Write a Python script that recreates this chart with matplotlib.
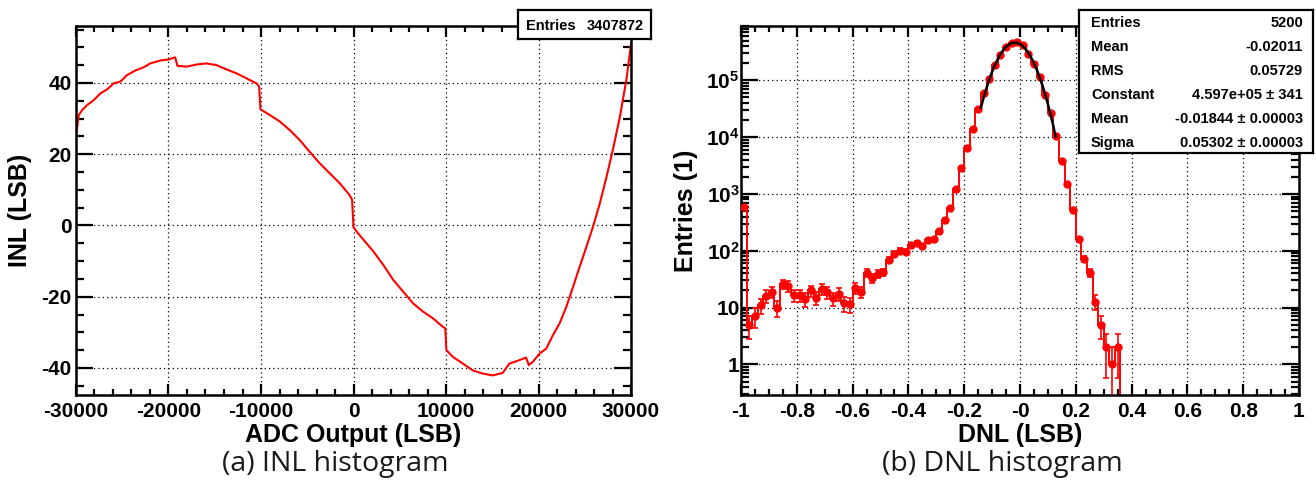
#!/usr/bin/env python3
"""INL and DNL histograms of the ADC linearity scan, ROOT-like styling."""

import numpy as np
import matplotlib

matplotlib.use("Agg")
import matplotlib.pyplot as plt
from matplotlib.ticker import FixedLocator, FuncFormatter, LogLocator, MultipleLocator, NullFormatter

# INL curve: ADC output code vs. integral nonlinearity
inl_code = [
    -30000, -29700, -29330, -28800, -28080, -27360, -26640, -25920, -25200, -24490,
    -23590, -22690, -21970, -20900, -20000, -19280, -19030, -18030, -16950, -15870,
    -14800, -13720, -12640, -11560, -10490, -10200, -10060, -9050, -7970, -6900,
    -5820, -4740, -3670, -2590, -1510, -440, -150, 0, 460, 1075,
    2150, 3225, 4300, 5375, 6450, 7530, 8600, 9680, 9930, 10035,
    10750, 11830, 12900, 13980, 15050, 16130, 16850, 17940, 18660, 18950,
    19380, 20110, 20830, 21560, 22280, 23000, 23730, 24450, 25180, 25900,
    26620, 27350, 28070, 28800, 29520, 30000,
]
inl_lsb = [
    25.0, 31.0, 32.4, 33.8, 35.2, 37.1, 38.2, 39.9, 40.4, 42.2,
    43.5, 44.4, 45.5, 46.3, 46.6, 47.2, 44.8, 44.6, 45.2, 45.5,
    45.0, 43.8, 42.7, 41.3, 39.9, 39.0, 32.6, 31.0, 29.2, 26.8,
    24.0, 20.7, 17.5, 14.7, 11.9, 8.6, 7.2, -0.5, -2.1, -4.0,
    -7.3, -11.1, -15.3, -18.6, -21.9, -24.2, -26.1, -28.5, -28.9, -35.0,
    -36.9, -38.8, -40.7, -41.6, -42.1, -41.4, -38.8, -37.8, -37.1, -39.2,
    -38.3, -36.0, -34.6, -30.8, -27.5, -22.9, -17.3, -11.6, -6.0, -0.3,
    6.1, 13.6, 21.6, 30.5, 41.2, 51.0,
]
inl_entries = "3407872"

# DNL histogram: 100 bins over [-1, 1]
dnl_range = (-1.0, 1.0)
dnl_nbins = 100
dnl_counts = [
    600, 5.0, 7.0, 11, 16, 19, 10, 26, 24, 16.5,
    16.5, 14, 20, 15, 21, 18.5, 14.5, 17.5, 12, 11.5,
    22, 19, 41, 33, 39, 42, 70, 88, 100, 97,
    127, 138, 121, 152, 158, 219, 351, 575, 1220, 2900,
    6450, 13700, 31000, 60000, 107000, 184000, 276000, 385000, 455000, 465000,
    412000, 295000, 196000, 114000, 54500, 26000, 10600, 3800, 1510, 520,
    162, 71, 41, 12.8, 5, 2, 1, 2, 0, 0,
    0, 0, 0, 0, 0, 0, 0, 0, 0, 0,
    0, 0, 0, 0, 0, 0, 0, 0, 0, 0,
    0, 0, 0, 0, 0, 0, 0, 0, 0, 0,
]

# gaussian fit to the DNL peak
fit_const = 4.597e5
fit_mean = -0.01844
fit_sigma = 0.05302
fit_range = (-0.14, 0.128)

dnl_stats = [
    ("Entries", "5200"),
    ("Mean", "-0.02011"),
    ("RMS", "0.05729"),
    ("Constant", "4.597e+05 \u00b1 341"),
    ("Mean", "-0.01844 \u00b1 0.00003"),
    ("Sigma", "0.05302 \u00b1 0.00003"),
]
dnl_xticklabels = ["-1", "-0.8", "-0.6", "-0.4", "-0.2", "-0", "0.2", "0.4", "0.6", "0.8", "1"]
dnl_decades = [0, 1, 2, 3, 4, 5]

W, H = 1316, 482
RED = "#ff0000"

plt.rcParams["font.family"] = ["Liberation Sans", "DejaVu Sans"]
plt.rcParams["font.weight"] = "bold"
plt.rcParams["axes.unicode_minus"] = False
plt.rcParams["mathtext.fontset"] = "custom"
plt.rcParams["mathtext.rm"] = "Liberation Sans:bold"
plt.rcParams["mathtext.bf"] = "Liberation Sans:bold"


def frac(x0, y0, x1, y1):
    """Pixel box (top-left origin) to a figure-fraction rect."""
    return [x0 / W, 1 - y1 / H, (x1 - x0) / W, (y1 - y0) / H]


def root_frame(ax):
    for spine in ax.spines.values():
        spine.set_linewidth(1.8)
    ax.tick_params(which="both", direction="in", top=True, right=True, width=1.6, labelsize=15)
    ax.tick_params(axis="x", which="major", length=8, pad=5)
    ax.tick_params(axis="x", which="minor", length=4)
    ax.tick_params(axis="y", which="major", length=12, pad=3)
    ax.tick_params(axis="y", which="minor", length=6)
    ax.grid(True, which="major", color="black", linestyle=(0, (1, 2.5)), linewidth=0.9)


def stats_box(fig, box_px, rows, label_x, value_x):
    x0, y0, x1, y1 = box_px
    bx = fig.add_axes(frac(x0, y0, x1, y1))
    bx.set_xlim(x0, x1)
    bx.set_ylim(y1, y0)
    bx.set_xticks([])
    bx.set_yticks([])
    for spine in bx.spines.values():
        spine.set_linewidth(1.6)
    step = (y1 - y0) / len(rows)
    for i, (name, value) in enumerate(rows):
        y = y0 + step * (i + 0.5)
        bx.text(label_x, y, name, ha="left", va="center_baseline", fontsize=10.5, fontweight="bold")
        bx.text(value_x, y, value, ha="right", va="center_baseline", fontsize=10.5, fontweight="bold")
    return bx


def draw_inl(ax):
    ax.plot(inl_code, inl_lsb, color=RED, linewidth=1.5)
    ax.set_xlim(-30000, 30000)
    ax.set_ylim(-47.6, 56.0)
    ax.xaxis.set_major_locator(MultipleLocator(10000))
    ax.xaxis.set_minor_locator(MultipleLocator(2000))
    ax.yaxis.set_major_locator(MultipleLocator(20))
    ax.yaxis.set_minor_locator(MultipleLocator(5))
    root_frame(ax)
    ax.set_xlabel("ADC Output (LSB)", fontsize=18, fontweight="bold", va="top")
    ax.xaxis.set_label_coords(0.5, -0.075)
    ax.set_ylabel("INL (LSB)", fontsize=18, fontweight="bold")
    ax.yaxis.set_label_coords(-0.080, 0.5)


def decade_label(v, _pos):
    exp = int(round(np.log10(v)))
    if exp == 0:
        return "1"
    if exp == 1:
        return "10"
    return r"$\mathbf{10^{%d}}$" % exp


def draw_dnl(ax):
    edges = np.linspace(dnl_range[0], dnl_range[1], dnl_nbins + 1)
    centers = 0.5 * (edges[:-1] + edges[1:])
    counts = np.asarray(dnl_counts, dtype=float)

    ax.stairs(counts, edges, baseline=None, color=RED, linewidth=1.4, zorder=2)
    filled = counts > 0
    ax.errorbar(
        centers[filled], counts[filled], yerr=np.sqrt(counts[filled]),
        fmt="o", color=RED, markersize=5, elinewidth=1.2, capsize=2, capthick=1.2, zorder=3,
    )

    xf = np.linspace(fit_range[0], fit_range[1], 300)
    yf = fit_const * np.exp(-0.5 * ((xf - fit_mean) / fit_sigma) ** 2)
    ax.plot(xf, yf, color="black", linewidth=1.8, zorder=4)

    ax.set_yscale("log")
    ax.set_xlim(*dnl_range)
    ax.set_ylim(0.29, 9.0e5)
    ax.xaxis.set_major_locator(FixedLocator(np.linspace(-1, 1, len(dnl_xticklabels))))
    ax.set_xticklabels(dnl_xticklabels)
    ax.xaxis.set_minor_locator(MultipleLocator(0.05))
    ax.yaxis.set_major_locator(FixedLocator([10.0 ** d for d in dnl_decades]))
    ax.yaxis.set_minor_locator(LogLocator(base=10, subs=np.arange(2, 10), numticks=20))
    ax.yaxis.set_minor_formatter(NullFormatter())
    ax.yaxis.set_major_formatter(FuncFormatter(decade_label))
    root_frame(ax)
    ax.tick_params(axis="y", which="major", pad=1)
    ax.set_xlabel("DNL (LSB)", fontsize=18, fontweight="bold", va="top")
    ax.xaxis.set_label_coords(0.5, -0.075)
    ax.set_ylabel("Entries (1)", fontsize=18, fontweight="bold")
    ax.yaxis.set_label_coords(-0.077, 0.5)


def main():
    fig = plt.figure(figsize=(W / 100, H / 100), dpi=100)
    ax_inl = fig.add_axes(frac(76, 26, 631, 395))
    ax_dnl = fig.add_axes(frac(741, 26, 1299, 395))
    draw_inl(ax_inl)
    draw_dnl(ax_dnl)

    stats_box(fig, (518, 10, 651, 39), [("Entries", inl_entries)], 526, 644)
    stats_box(fig, (1079, 10, 1313, 153), dnl_stats, 1091, 1303)

    caption = dict(ha="center", va="baseline", fontsize=20.5, fontweight="normal",
                   family=["Open Sans", "DejaVu Sans"], color="#1a1a1a")
    fig.text(335 / W, 1 - 471 / H, "(a) INL histogram", **caption)
    fig.text(1002 / W, 1 - 471 / H, "(b) DNL histogram", **caption)

    fig.savefig("out.png", dpi=100)


if __name__ == "__main__":
    main()
